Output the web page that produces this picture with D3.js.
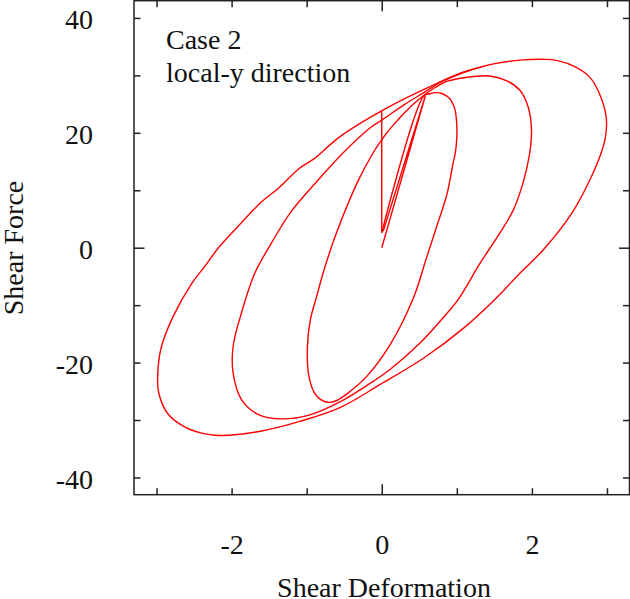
<!DOCTYPE html>
<html>
<head>
<meta charset="utf-8">
<script src="https://cdn.jsdelivr.net/npm/d3@7"></script>
<style>
  body { margin: 0; background: #fff; }
  svg { display: block; }
  text { font-family: "Liberation Serif", "Times New Roman", serif; fill: #111; }
</style>
</head>
<body>
<svg id="chart" width="630" height="599"></svg>
<script>
// [shear deformation, shear force] pairs

// first stiff loading and the unload back to zero
var firstLoading = [[0, 0], [0.58, 26.4], [0.02, 2.9]];

// drop at zero deformation
var release = [[0, 23.9], [0, 2.6]];

// cycle 1 (amplitude ~1), runs on into the cycle-2 peak
var loop1 = [
    [0, 2.6], [0.56, 26.4], [0.64, 26.8], [0.72, 27.0], [0.81, 26.8], [0.91, 25.9],
    [0.97, 24.3], [0.995, 22.3], [1.0, 19.3], [0.98, 16.5], [0.95, 14.7], [0.87, 9.4],
    [0.73, 3.6], [0.60, -1.6], [0.42, -8.8], [0.11, -16.9], [-0.2, -22.4], [-0.42, -25.0],
    [-0.6, -26.6], [-0.73, -26.9], [-0.88, -25.6], [-0.97, -22.4], [-0.99, -17.2],
    [-0.95, -12.5], [-0.87, -8.6], [-0.76, -3.5], [-0.62, 2.0], [-0.32, 11.5],
    [-0.12, 16.4], [0.01, 19.0], [0.15, 21.3], [0.31, 23.6], [0.5, 25.9], [0.7, 27.8],
    [0.87, 29.0]
];

// cycle 2 (amplitude ~2), runs on into the cycle-3 peak
var loop2 = [
    [0.87, 29.0], [1.05, 29.5], [1.22, 29.8], [1.44, 29.9], [1.66, 29.1], [1.84, 27.4],
    [1.95, 24.5], [1.995, 20.4], [1.97, 16.4], [1.88, 11.2], [1.75, 6.5], [1.57, 2.5],
    [1.31, -2.7], [1.02, -9.0], [0.87, -11.4], [0.51, -16.6], [0.11, -21.2], [-0.2, -24.0],
    [-0.55, -26.8], [-0.98, -29.2], [-1.34, -29.8], [-1.65, -29.0], [-1.87, -26.4],
    [-1.98, -21.8], [-1.98, -17.2], [-1.87, -11.4], [-1.69, -4.4], [-1.47, 0.8],
    [-1.21, 6.25], [-0.85, 11.75], [-0.5, 16.7], [-0.14, 21.0], [0.01, 22.3], [0.31, 25.0],
    [0.55, 26.9], [0.8, 28.9], [1.09, 30.5]
];

// cycle 3 (amplitude ~3)
var loop3 = [
    [1.09, 30.5], [1.49, 32.0], [1.88, 32.7], [2.15, 32.8], [2.33, 32.6], [2.59, 31.4],
    [2.77, 29.7], [2.9, 26.8], [2.99, 22.7], [2.98, 19.3], [2.92, 16.4], [2.77, 11.75],
    [2.53, 5.97], [2.15, -0.4], [1.84, -4.44], [1.51, -8.96], [1.09, -14.0], [0.56, -19.2],
    [-0.02, -23.8], [-0.55, -27.8], [-1.08, -30.2], [-1.6, -31.9], [-2.13, -32.7],
    [-2.31, -32.5], [-2.6, -31.35], [-2.85, -28.9], [-2.97, -25.3], [-2.985, -22.4],
    [-2.94, -17.5], [-2.78, -12.0], [-2.53, -6.2], [-2.36, -3.3], [-2.18, -0.1],
    [-1.96, 3.07], [-1.6, 7.99], [-1.38, 10.3], [-1.1, 13.8], [-0.9, 15.5], [-0.56, 19.3],
    [0.01, 23.9], [0.555, 27.5], [1.09, 30.6], [1.49, 32.0]
];

var xTicks = [-3, -2, -1, 0, 1, 2, 3];
var xLabels = [-2, 0, 2];
var yTicks = [-40, -30, -20, -10, 0, 10, 20, 30, 40];
var yLabels = [-40, -20, 0, 20, 40];

var svg = d3.select("#chart"),
    width = +svg.attr("width"),
    height = +svg.attr("height"),
    margin = {top: 0.7, right: 0.5, bottom: 104.3, left: 134};

var fontSize = 28;

var x = d3.scaleLinear()
    .domain([-3.3, 3.3])
    .range([margin.left, width - margin.right]);

var y = d3.scaleLinear()
    .domain([-43, 43])
    .range([height - margin.bottom, margin.top]);

var axisColor = "#222";

function tickLen(d) { return d === 0 ? 10.5 : 6.5; }

function fmt(list) {
    return function(d) { return list.indexOf(d) >= 0 ? String(d) : ""; };
}

// bottom axis with labels
var gx = svg.append("g")
    .attr("transform", "translate(0," + y.range()[0] + ")")
    .call(d3.axisBottom(x).tickValues(xTicks).tickSizeInner(-6.5).tickSizeOuter(0)
        .tickPadding(39.5).tickFormat(fmt(xLabels)));

// top axis, ticks only
var gxt = svg.append("g")
    .attr("transform", "translate(0," + y.range()[1] + ")")
    .call(d3.axisTop(x).tickValues(xTicks).tickSizeInner(-6.5).tickSizeOuter(0)
        .tickFormat(""));

// left axis with labels
var gy = svg.append("g")
    .attr("transform", "translate(" + x.range()[0] + ",0)")
    .call(d3.axisLeft(y).tickValues(yTicks).tickSizeInner(-6.5).tickSizeOuter(0)
        .tickPadding(41).tickFormat(fmt(yLabels)));

// right axis, ticks only
var gyr = svg.append("g")
    .attr("transform", "translate(" + x.range()[1] + ",0)")
    .call(d3.axisRight(y).tickValues(yTicks).tickSizeInner(-6.5).tickSizeOuter(0)
        .tickFormat(""));

[gx, gxt, gy, gyr].forEach(function(g) {
    g.select(".domain").remove();
    g.selectAll(".tick line").attr("stroke", axisColor).attr("stroke-width", 1.5);
    g.selectAll(".tick text")
        .style("font-family", '"Liberation Serif", "Times New Roman", serif')
        .attr("font-size", fontSize)
        .attr("fill", "#111");
});

gx.selectAll(".tick line").attr("y2", function(d) { return -tickLen(d); });
gxt.selectAll(".tick line").attr("y2", function(d) { return tickLen(d); });
gy.selectAll(".tick line").attr("x2", function(d) { return tickLen(d); });
gyr.selectAll(".tick line").attr("x2", function(d) { return -tickLen(d); });
gy.selectAll(".tick text").attr("dy", "0.38em");

// frame
svg.append("rect")
    .attr("x", x.range()[0])
    .attr("y", y.range()[1])
    .attr("width", x.range()[1] - x.range()[0])
    .attr("height", y.range()[0] - y.range()[1])
    .attr("fill", "none")
    .attr("stroke", axisColor)
    .attr("stroke-width", 1.5);

var straight = d3.line()
    .x(function(d) { return x(d[0]); })
    .y(function(d) { return y(d[1]); });

var smooth = d3.line()
    .curve(d3.curveCatmullRom.alpha(0.5))
    .x(function(d) { return x(d[0]); })
    .y(function(d) { return y(d[1]); });

var curves = svg.append("g")
    .attr("fill", "none")
    .attr("stroke", "#ff0000")
    .attr("stroke-width", 1.4)
    .attr("stroke-linejoin", "round");

curves.append("path").attr("d", straight(firstLoading));
curves.append("path").attr("d", straight(release));
[loop1, loop2, loop3].forEach(function(l) {
    curves.append("path").attr("d", smooth(l));
});

// note in the corner
svg.append("text")
    .attr("x", 166).attr("y", 49)
    .attr("font-size", fontSize)
    .text("Case 2");

svg.append("text")
    .attr("x", 166).attr("y", 82)
    .attr("font-size", fontSize)
    .text("local-y direction");

// axis titles
svg.append("text")
    .attr("x", 384).attr("y", 597)
    .attr("text-anchor", "middle")
    .attr("font-size", fontSize)
    .text("Shear Deformation");

svg.append("text")
    .attr("transform", "translate(23,248) rotate(-90)")
    .attr("text-anchor", "middle")
    .attr("font-size", fontSize)
    .text("Shear Force");
</script>
</body>
</html>
